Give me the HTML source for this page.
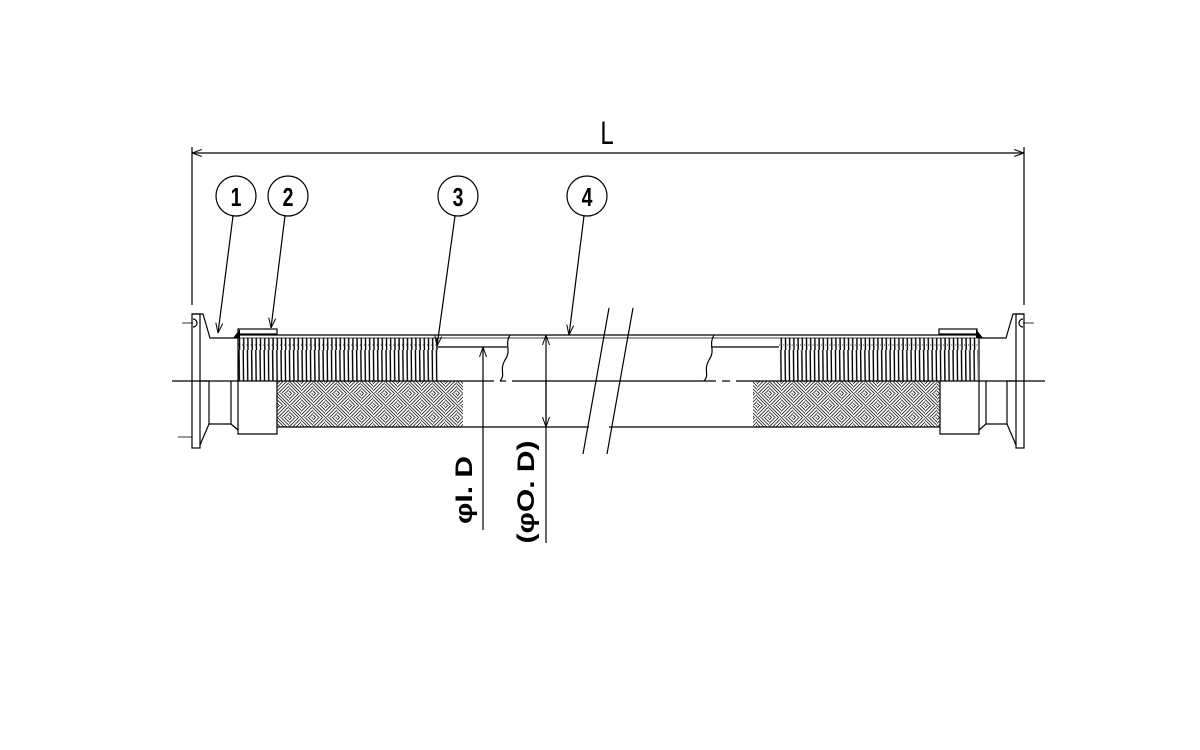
<!DOCTYPE html>
<html><head><style>body{margin:0;background:#fff}svg{display:block}</style></head><body>
<svg width="1200" height="750" viewBox="0 0 1200 750" xmlns="http://www.w3.org/2000/svg" font-family="Liberation Sans, DejaVu Sans, sans-serif">
<defs>
<pattern id="corr" x="238" y="0" width="4.2" height="50" patternUnits="userSpaceOnUse">
<line x1="1" y1="0" x2="1.6" y2="50" stroke="#000" stroke-width="1.4"/>
</pattern>
<pattern id="braid" x="277" y="381" width="24" height="24" patternUnits="userSpaceOnUse">
<g stroke="#000" stroke-width="0.75">
<path d="M0,3 L3,0 M0,6.5 L6.5,0 M0,10 L10,0 M1.5,12 L12,1.5 M5,12 L12,5 M8.5,12 L12,8.5"/>
<path d="M12,3 L21,12 M12,6.5 L17.5,12 M12,10 L14,12 M12,0 L24,12 M15.5,0 L24,8.5 M19,0 L24,5 M22.5,0 L24,1.5"/>
<path d="M0,15 L9,24 M0,18.5 L5.5,24 M0,22 L2,24 M0,12 L12,24 M3.5,12 L12,20.5 M7,12 L12,17 M10.5,12 L12,13.5"/>
<path d="M12,15 L15,12 M12,18.5 L18.5,12 M12,22 L22,12 M13.5,24 L24,13.5 M17,24 L24,17 M20.5,24 L24,20.5"/>
</g>
</pattern>
<marker id="ar" viewBox="0 0 10 10" refX="10" refY="5" markerWidth="10" markerHeight="10" orient="auto-start-reverse" markerUnits="userSpaceOnUse"><path d="M0,1.5 L10,5 L0,8.5" fill="none" stroke="#000" stroke-width="1"/></marker>
</defs>
<g stroke="#000" fill="none" stroke-width="1.2">
<line x1="192" y1="147" x2="192" y2="305"/>
<line x1="1024" y1="147" x2="1024" y2="305"/>
<line x1="192" y1="153" x2="1024" y2="153" marker-start="url(#ar)" marker-end="url(#ar)"/>
<circle cx="236" cy="196" r="20"/><circle cx="288" cy="196" r="20"/>
<circle cx="458" cy="196" r="20"/><circle cx="587" cy="196" r="20"/>
<line x1="233" y1="216" x2="218" y2="333" marker-end="url(#ar)"/>
<line x1="285" y1="216" x2="271" y2="328" marker-end="url(#ar)"/>
<line x1="455" y1="216" x2="437" y2="346" marker-end="url(#ar)"/>
<line x1="584" y1="216" x2="569" y2="335" marker-end="url(#ar)"/>
<line x1="172" y1="381" x2="494" y2="381"/>
<line x1="500" y1="381" x2="506" y2="381"/>
<line x1="512" y1="381" x2="716" y2="381"/>
<line x1="722" y1="381" x2="730" y2="381"/>
<line x1="736" y1="381" x2="1045" y2="381"/>
<line x1="237" y1="335" x2="979" y2="335"/>
<line x1="238" y1="338" x2="979" y2="338" stroke-width="0.8"/>
<line x1="277" y1="427" x2="940" y2="427"/>
<line x1="438" y1="347" x2="507" y2="347"/>
<line x1="711" y1="347" x2="779" y2="347"/>
<path d="M510,335 C504,345 512,350 505,360 C499,370 506,375 500,381"/>
<path d="M714,335 C708,345 716,350 709,360 C703,370 710,375 704,381"/>
<line x1="609" y1="308" x2="583" y2="454"/>
<line x1="633" y1="308" x2="607" y2="454"/>
</g>
<rect x="589" y="425" width="20" height="4" fill="#fff"/>
<rect x="238" y="338" width="200" height="43" fill="url(#corr)"/>
<rect x="779" y="338" width="199" height="43" fill="url(#corr)"/>
<g stroke="#000" stroke-width="0.8"><line x1="238" y1="345" x2="438" y2="345" stroke-dasharray="1 3.2"/><line x1="779" y1="345" x2="978" y2="345" stroke-dasharray="1 3.2"/></g>
<rect x="277" y="381" width="186" height="46" fill="url(#braid)"/>
<rect x="753" y="381" width="187" height="46" fill="url(#braid)"/>
<g stroke="#000" fill="none" stroke-width="1.2">
<path d="M192,314 L203,314 L210,338 L238,338 L238,434 L277,434 L277,381"/>
<rect x="192" y="314" width="8" height="134"/>
<path d="M193,319 A4,4 0 0 1 193,327"/>
<line x1="182" y1="323" x2="193" y2="323" stroke-width="0.8"/>
<line x1="178" y1="437" x2="192" y2="437" stroke-width="0.8"/>
<path d="M200,381 L209,381 L209,424 L231,424 L231,381 M209,424 L200,445 M231,424 L238,430"/>
<rect x="238" y="329" width="39" height="5"/>
<path d="M1024,314 L1013,314 L1006,338 L979,338 L979,434 L940,434 L940,381"/>
<rect x="1016" y="314" width="8" height="134"/>
<path d="M1023,319 A4,4 0 0 0 1023,327"/>
<line x1="1023" y1="323" x2="1034" y2="323" stroke-width="0.8"/>
<path d="M1016,381 L1007,381 L1007,424 L986,424 L986,381 M1007,424 L1016,445 M986,424 L979,430"/>
<rect x="939" y="329" width="38" height="5"/>
<line x1="483" y1="530" x2="483" y2="347" marker-end="url(#ar)"/>
<line x1="546" y1="543" x2="546" y2="335" marker-end="url(#ar)"/>
<line x1="546" y1="380" x2="546" y2="427" marker-end="url(#ar)"/>
</g>
<path d="M233,338 L240,329 L240,338 Z" fill="#000"/>
<path d="M983,338 L976,329 L976,338 Z" fill="#000"/>
<g font-size="26" text-anchor="middle" fill="#000" font-weight="bold">
<text transform="translate(607,144) scale(0.75,1)" font-size="32" font-weight="normal">L</text>
<text transform="translate(236,206) scale(0.75,1)">1</text>
<text transform="translate(288,206) scale(0.75,1)">2</text>
<text transform="translate(458,206) scale(0.75,1)">3</text>
<text transform="translate(587,206) scale(0.75,1)">4</text>
<text transform="translate(472,490) rotate(-90) scale(1,0.8)" font-size="30">φI. D</text>
<text transform="translate(534,492) rotate(-90) scale(1,0.8)" font-size="30">(φO. D)</text>
</g>
</svg>
</body></html>
